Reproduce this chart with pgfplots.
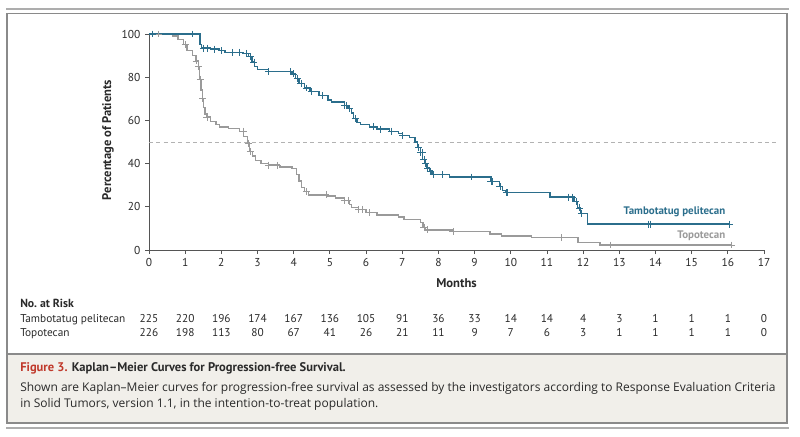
\documentclass[border=0pt]{standalone}
\usepackage{pgfplots}
\pgfplotsset{compat=1.18}
\usepackage{fontspec}
\setmainfont{PT Sans}
\newfontfamily\capfont{Open Sans}
\definecolor{tamb}{HTML}{2B6E8C}
\definecolor{topo}{HTML}{9A9A9A}
\definecolor{axisgray}{HTML}{555555}
\definecolor{capbg}{HTML}{F1EFEA}
\definecolor{framegray}{HTML}{8A8A8A}
\definecolor{figred}{HTML}{C0392B}
\definecolor{txt}{HTML}{2A2A2A}

\pgfplotstableread{
t s
0 100
1.41 95
1.45 93.5
1.7 93
1.95 92.3
2.1 91.5
2.6 91
2.75 89.5
2.85 87
2.92 85
3.0 83.5
3.3 82.5
3.95 81.5
4.05 79.5
4.15 77
4.3 75
4.45 73.5
4.7 71.5
4.95 69.5
5.05 68.5
5.4 67
5.5 65.5
5.6 63.5
5.65 61
5.75 59
5.85 58
6.1 57
6.3 56
6.65 55
6.9 54
7.0 53
7.2 52
7.35 50
7.42 47.5
7.5 45
7.56 42
7.62 40
7.68 38
7.75 36.5
7.82 35
8.3 33.8
9.45 31.8
9.68 29.5
9.78 27.5
9.85 26.5
11.08 24.5
11.75 22.5
11.85 19.5
11.92 17
12.12 12
16.05 12
}\tamb

\pgfplotstableread{
t s
0.1 100
1.2 100
1.5 93.5
1.6 93.5
1.8 93
2.0 92.3
2.3 91.5
2.5 91.5
2.7 91
2.8 89.5
2.9 87
3.3 82.5
3.9 82.5
4.0 81.5
4.1 79.5
4.2 77
4.35 75
4.5 73.5
4.8 71.5
5.4 67
5.45 67
5.55 65.5
5.7 61
6.2 57
6.4 56
6.7 55
7.0 53
7.45 47.5
7.5 45
7.55 45
7.6 42
7.65 40
7.7 38
7.78 36.5
7.85 35
8.1 35
8.9 33.8
9.45 31.8
9.5 31.8
9.7 29.5
9.88 26.5
9.9 26.5
11.6 24.5
11.7 24.5
11.8 22.5
11.9 19.5
11.95 17
13.8 12
13.85 12
16.05 12
}\tambcens

\pgfplotstableread{
t s
0 100
0.65 99
0.8 97.5
0.95 95
1.05 92.5
1.2 90
1.3 87.5
1.36 85
1.4 79
1.44 74
1.47 70
1.5 66
1.55 63
1.6 61.5
1.7 59.5
1.85 58
1.95 57
2.2 56.3
2.5 55
2.62 52.5
2.72 49.5
2.78 45.5
2.86 43.5
2.95 41.5
3.1 40
3.3 39.3
3.6 38.5
3.95 37.8
4.08 35
4.15 32
4.22 29
4.3 27
4.4 25.5
4.95 25
5.15 24
5.4 23
5.55 21
5.6 19.8
5.8 18.8
6.0 17.3
6.3 16.2
6.9 15.3
7.05 14
7.5 12.8
7.57 10.5
7.65 9.3
8.4 8.6
9.43 7.4
9.75 6.5
10.58 5.7
11.86 3.4
12.47 2.3
16.1 2.3
}\topo

\pgfplotstableread{
t s
0.1 100
0.25 100
1.0 95
1.3 87.5
1.37 85
1.42 79
1.48 70
1.6 61.5
2.6 55
2.75 49.5
2.8 45.5
3.3 39.3
3.55 39.3
4.35 27
4.9 25.5
5.4 23
5.5 23
5.8 18.8
5.9 18.8
6.1 17.3
7.6 10.5
7.7 9.3
8.4 8.6
11.4 5.7
12.75 2.3
16.1 2.3
}\topocens

\begin{document}
\begin{tikzpicture}[font=\fontsize{8.5}{10}\selectfont]
\begin{scope}[x=0.75pt,y=-0.75pt,yshift=327pt]
  \useasboundingbox (0,0) rectangle (800,436);
  \fill[capbg] (7,354) rectangle (787,423);
  \draw[framegray, line width=1.1pt] (7,13.5) rectangle (787,423);
  \draw[framegray, line width=0.9pt] (7,354) -- (787,354);
  \draw[framegray!70, line width=1pt] (6,9) -- (789,9);
  \draw[framegray!70, line width=1pt] (6,428) -- (789,428);
  % axis labels
  \node[text=txt, font=\fontsize{9.5}{11}\selectfont\bfseries] at (456.5,283) {Months};
  \node[text=txt, rotate=90, font=\fontsize{9.4}{11}\selectfont\bfseries] at (108,140) {Percentage of Patients};
  % curve labels
  \node[anchor=east, text=tamb, font=\fontsize{8.2}{10}\selectfont\bfseries] at (730,212) {Tambotatug pelitecan};
  \node[anchor=east, text=topo, font=\fontsize{8.2}{10}\selectfont\bfseries] at (730,236) {Topotecan};
  % risk table
  \node[anchor=base west, text=txt, inner sep=0pt, font=\fontsize{8.8}{10}\selectfont\bfseries] at (20,307.5) {No.\ at Risk};
  \node[anchor=base west, text=txt, inner sep=0pt] at (20,322.5) {Tambotatug pelitecan};
  \node[anchor=base west, text=txt, inner sep=0pt] at (20,336.5) {Topotecan};
  \foreach \v [count=\i from 0] in {225,220,196,174,167,136,105,91,36,33,14,14,4,3,1,1,1,0}
    \node[anchor=base, text=txt, inner sep=0pt] at (149+36.18*\i,322.5) {\v};
  \foreach \v [count=\i from 0] in {226,198,113,80,67,41,26,21,11,9,7,6,3,1,1,1,1,0}
    \node[anchor=base, text=txt, inner sep=0pt] at (149+36.18*\i,336.5) {\v};
  % caption
  \node[anchor=base west, inner sep=0pt, font=\fontsize{9.4}{11}\selectfont\bfseries] at (20,371.5)
    {\textcolor{figred}{Figure 3.} \textcolor{txt}{Kaplan–Meier Curves for Progression-free Survival.}};
  \node[anchor=base west, inner sep=0pt, text=txt, font=\capfont\fontsize{9.0}{11}\selectfont] at (20,391.5)
    {Shown are Kaplan–Meier curves for progression-free survival as assessed by the investigators according to Response Evaluation Criteria};
  \node[anchor=base west, inner sep=0pt, text=txt, font=\capfont\fontsize{9.0}{11}\selectfont] at (20,407)
    {in Solid Tumors, version 1.1, in the intention-to-treat population.};
\end{scope}

\begin{axis}[
  at={(111.75pt,139.5pt)}, anchor=south west,
  scale only axis, width=461.25pt, height=162pt,
  xmin=0, xmax=17, ymin=0, ymax=100,
  axis lines=left,
  axis line style={-, axisgray, line width=0.7pt},
  tick style={axisgray, line width=0.6pt},
  tick align=outside, major tick length=3pt,
  xtick={0,...,17}, ytick={0,20,...,100},
  tick label style={font=\fontsize{8.6}{10}\selectfont, text=txt},
  /pgf/number format/assume math mode=true,
  clip=false,
]
\addplot[dash pattern=on 3pt off 2.5pt, color=black!30, line width=0.6pt] coordinates {(0,50) (17.4,50)};
\addplot[const plot, topo, line width=1pt] table[x=t,y=s] {\topo};
\addplot[only marks, mark=+, mark size=2.6pt, topo, mark options={line width=0.5pt}] table[x=t,y=s] {\topocens};
\addplot[const plot, tamb, line width=1pt] table[x=t,y=s] {\tamb};
\addplot[only marks, mark=+, mark size=2.6pt, tamb, mark options={line width=0.5pt}] table[x=t,y=s] {\tambcens};
\end{axis}
\end{tikzpicture}
\end{document}
